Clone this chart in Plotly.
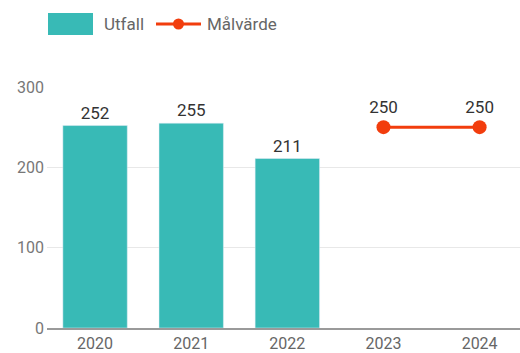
import plotly.graph_objects as go

years = ["2020", "2021", "2022", "2023", "2024"]
utfall = [252, 255, 211, None, None]
malvarde = [None, None, None, 250, 250]
y_ticks = [0, 100, 200, 300]

teal = "#38bab6"
red = "#f23d0d"

L, T, W, H = 47, 87, 473, 241  # plot area in px

def px(x):
    return (x - L) / W

def py(y):
    return (T + H - y) / H

fig = go.Figure()
fig.add_trace(go.Bar(
    x=years, y=utfall, name="Utfall", marker_color=teal, width=0.67,
    text=[str(v) if v is not None else "" for v in utfall], textposition="outside",
    textfont=dict(size=17, color="#333333", family="Roboto"), cliponaxis=False,
    showlegend=False,
))
fig.add_trace(go.Scatter(
    x=years, y=malvarde, name="Målvärde", mode="lines+markers+text",
    line=dict(color=red, width=3), marker=dict(color=red, size=14),
    text=[str(v) if v is not None else "" for v in malvarde], textposition="top center",
    textfont=dict(size=17, color="#333333", family="Roboto"), cliponaxis=False,
    showlegend=False,
))

# custom legend
fig.add_shape(type="rect", xref="paper", yref="paper", x0=px(48), x1=px(93),
              y0=py(35), y1=py(13), fillcolor=teal, line_width=0)
fig.add_annotation(xref="paper", yref="paper", x=px(102), y=py(24), text="Utfall",
                   showarrow=False, xanchor="left", yanchor="middle",
                   font=dict(size=17, color="#666666", family="Roboto"))
fig.add_shape(type="line", xref="paper", yref="paper", x0=px(156), x1=px(201),
              y0=py(24), y1=py(24), line=dict(color=red, width=3))
fig.add_shape(type="circle", xref="paper", yref="paper", x0=px(173), x1=px(184),
              y0=py(29.5), y1=py(18.5), fillcolor=red, line_width=0)
fig.add_annotation(xref="paper", yref="paper", x=px(205), y=py(24), text="Målvärde",
                   showarrow=False, xanchor="left", yanchor="middle",
                   font=dict(size=17, color="#666666", family="Roboto"))

fig.update_layout(
    width=520, height=353,
    margin=dict(l=L, r=520 - L - W, t=T, b=353 - T - H, autoexpand=False),
    paper_bgcolor="white", plot_bgcolor="white",
    font=dict(family="Roboto", size=16, color="#666666"),
)
fig.update_xaxes(range=[-0.5, 4.42], showgrid=False, showline=True, linecolor="#9a9a9a",
                 linewidth=1.5, ticks="", automargin=False,
                 tickfont=dict(size=16, color="#666666"), fixedrange=True)
fig.update_yaxes(range=[0, 300], tickvals=y_ticks, showgrid=True, gridcolor="#e8e8e8", gridwidth=1,
                 zeroline=False, ticks="", ticklabelstandoff=2, automargin=False,
                 tickfont=dict(size=16, color="#777777"), fixedrange=True)

fig.write_html("out.html", config={"displayModeBar": False},
               post_script="document.body.style.margin='0px';document.body.style.overflow='hidden';")
